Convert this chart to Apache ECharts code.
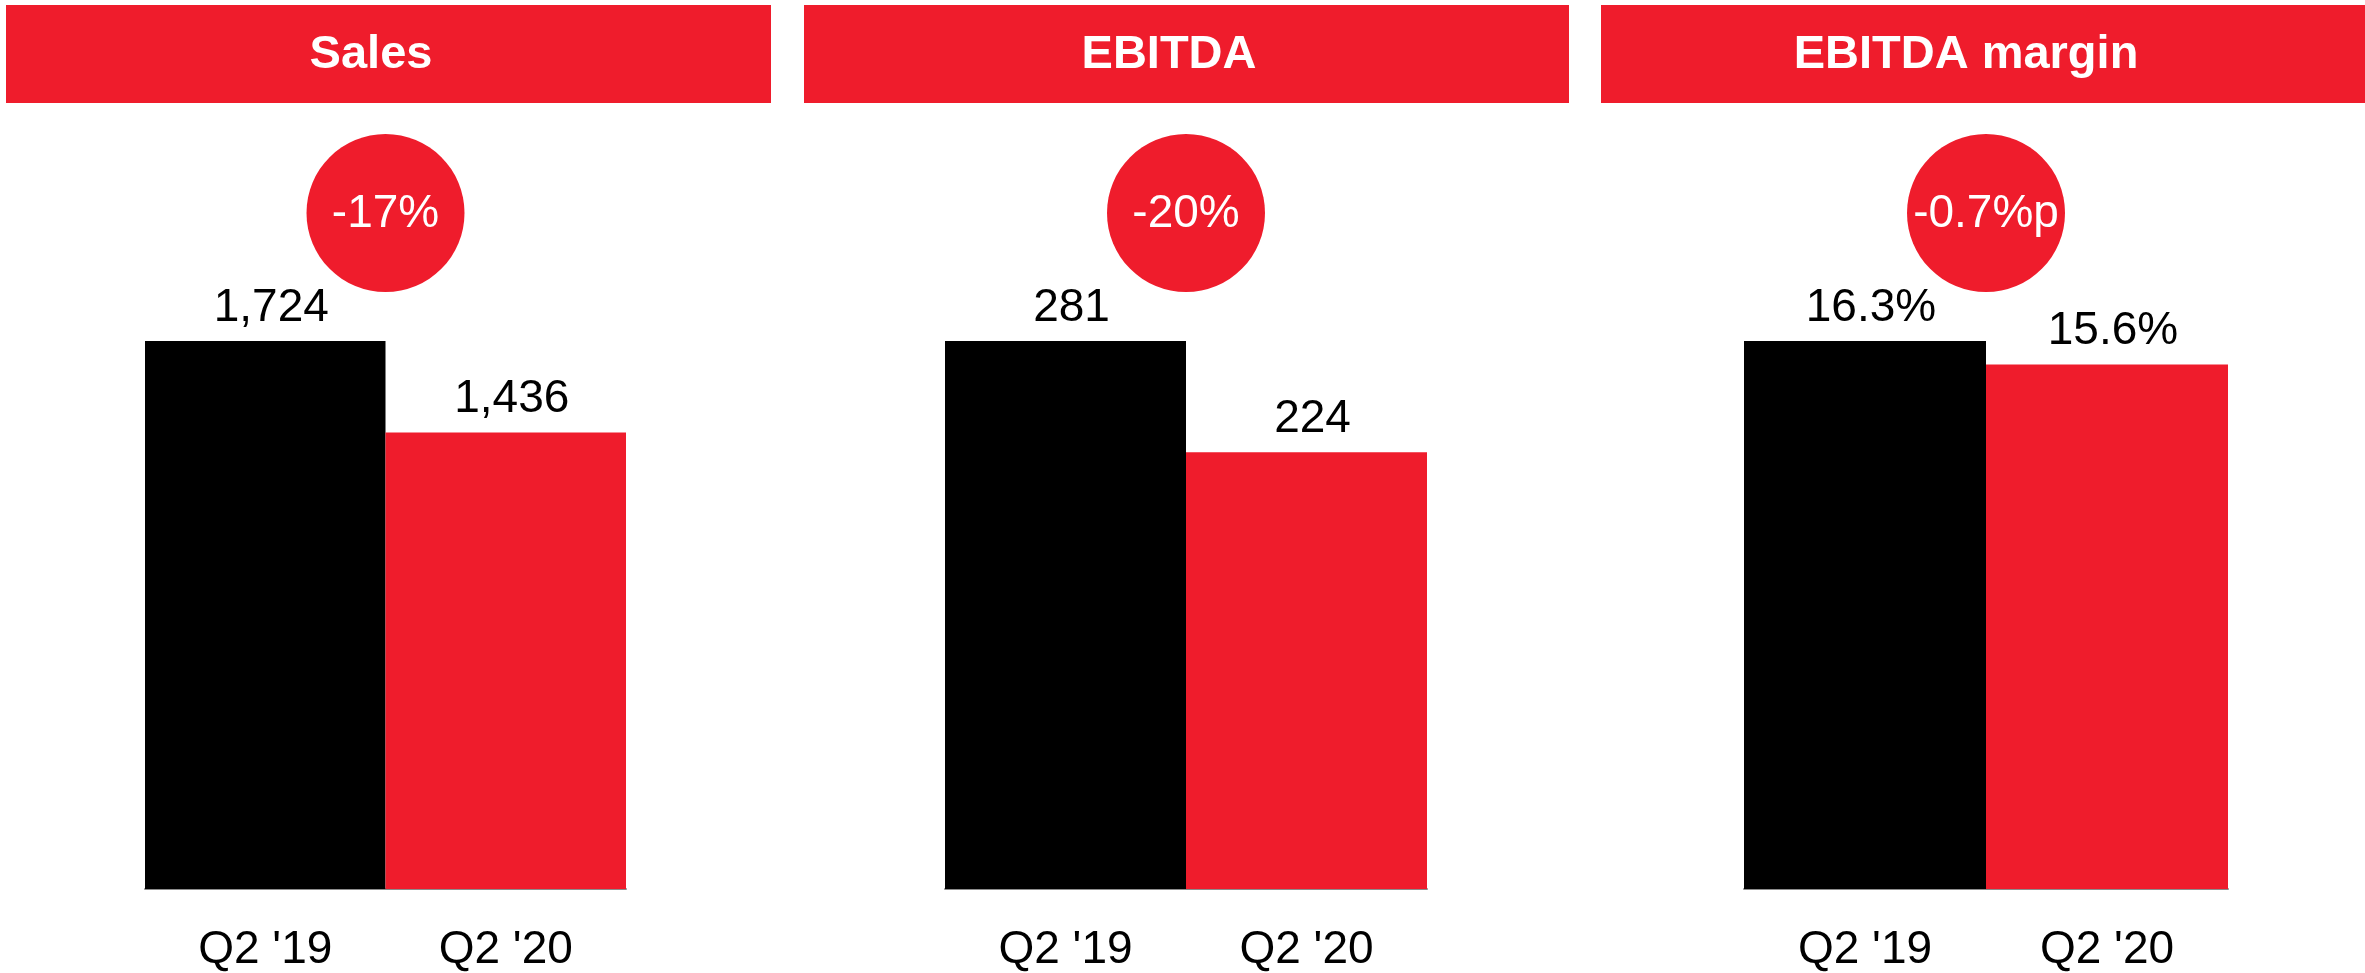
<!DOCTYPE html>
<html>
<head>
<meta charset="utf-8">
<script src="https://cdn.jsdelivr.net/npm/echarts@6/dist/echarts.min.js"></script>
<style>
	html,body{margin:0;padding:0;background:#fff}
	#chart{width:2365px;height:973px}
</style>
</head>
<body>
<div id="chart"></div>
<script>
	var categories = ["Q2 '19", "Q2 '20"];
	var titles = ['Sales', 'EBITDA', 'EBITDA margin'];
	var sales = [1724, 1436];
	var ebitda = [281, 224];
	var margin = [16.3, 15.6];
	var changes = ['-17%', '-20%', '-0.7%p'];

	var red = '#EF1C2C';
	var font = "'Liberation Sans', Arial, sans-serif";
	var panels = [sales, ebitda, margin];
	var formats = [
		function (v) { return v.toLocaleString('en-US'); },
		function (v) { return String(v); },
		function (v) { return v.toFixed(1) + '%'; }
	];
	// layout of the three panels
	var gridLeft = [145, 945, 1744];
	var gridWidth = [481, 482, 484];
	var headLeft = [6, 804, 1601];

	var myChart = echarts.init(document.getElementById('chart'));

	var grids = [], xAxes = [], yAxes = [], series = [];
	panels.forEach(function (data, i) {
		grids.push({left: gridLeft[i], width: gridWidth[i], top: 341, bottom: 81});
		xAxes.push({
			type: 'category',
			gridIndex: i,
			data: categories,
			axisTick: {show: false},
			axisLine: {lineStyle: {color: '#8c8c8c', width: 2}},
			axisLabel: {color: '#000', fontSize: 46, fontFamily: font, margin: 38}
		});
		yAxes.push({
			type: 'value',
			gridIndex: i,
			min: 0,
			max: function (v) { return v.max; },
			show: false,
			splitLine: {show: false}
		});
		series.push({
			type: 'bar',
			xAxisIndex: i,
			yAxisIndex: i,
			barCategoryGap: '0%',
			data: data.map(function (v, k) {
				return {value: v, itemStyle: {color: k === 0 ? '#000' : red}};
			}),
			label: {
				show: true,
				position: 'top',
				distance: 10,
				offset: [6, 0],
				color: '#000',
				fontSize: 46,
				fontFamily: font,
				formatter: (function (f) { return function (p) { return f(p.value); }; })(formats[i])
			}
		});
	});

	myChart.setOption({
		animation: false,
		grid: grids,
		xAxis: xAxes,
		yAxis: yAxes,
		series: series
	});

	// headers and change bubbles
	var graphic = [];
	titles.forEach(function (t, i) {
		graphic.push({
			type: 'rect',
			shape: {x: headLeft[i], y: 5, width: 765, height: 98},
			style: {fill: red}
		});
		graphic.push({
			type: 'text',
			x: headLeft[i] + 382 - 17,
			y: 55,
			style: {text: t, fill: '#fff', font: 'bold 47px ' + font, textAlign: 'center', textVerticalAlign: 'middle'}
		});
		var x0 = myChart.convertToPixel({xAxisIndex: i}, categories[0]);
		var x1 = myChart.convertToPixel({xAxisIndex: i}, categories[1]);
		var top = myChart.convertToPixel({yAxisIndex: i}, panels[i][0]);
		var cx = (x0 + x1) / 2, cy = top - 128;
		graphic.push({
			type: 'circle',
			shape: {cx: cx, cy: cy, r: 79},
			style: {fill: red}
		});
		graphic.push({
			type: 'text',
			x: cx,
			y: cy + 1,
			style: {text: changes[i], fill: '#fff', font: '46px ' + font, textAlign: 'center', textVerticalAlign: 'middle'}
		});
	});
	myChart.setOption({graphic: graphic});
</script>
</body>
</html>
